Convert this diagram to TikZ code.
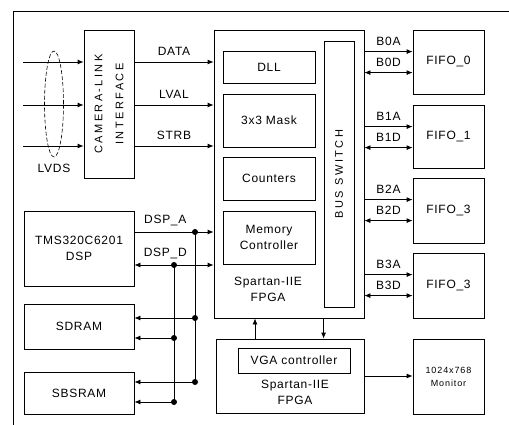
\documentclass[tikz,border=0pt]{standalone}
\usepackage{fontspec}
\setmainfont{Liberation Sans}[LetterSpace=6]
\usetikzlibrary{arrows.meta,positioning,shapes.geometric}

\begin{document}
\begin{tikzpicture}[
    x=1pt, y=-1pt,
    font=\fontsize{12}{16}\selectfont,
    blk/.style={rectangle, draw=black, line width=0.8pt, align=center, inner sep=0pt},
    inner/.style={blk, minimum width=92pt},
    fifo/.style={blk, minimum width=71pt},
    memory/.style={blk, minimum width=110pt},
    txt/.style={align=center, inner sep=0pt},
    spaced/.style={txt, font=\fontsize{11}{21}\selectfont\addfontfeatures{LetterSpace=22}},
    lbl/.style={above=6pt, inner sep=0pt},
    dot/.style={circle, fill=black, inner sep=0pt, minimum size=6pt},
    arrow/.style={-{Latex[length=6pt,width=5pt]}, line width=0.8pt},
    dblarrow/.style={{Latex[length=6pt,width=5pt]}-{Latex[length=6pt,width=5pt]}, line width=0.8pt},
    bus/.style={line width=0.8pt}
]
\useasboundingbox (0,0) rectangle (509,425);

% Frame
\draw[line width=0.8pt] (509,11) -- (13,11) -- (13,425);

% Camera link side
\node[blk, minimum width=50pt, minimum height=148pt] (cam) at (109,104) {};
\node[spaced, rotate=90] (camtxt) at (cam.center) {CAMERA-LINK\\INTERFACE};
\node[draw, ellipse, line width=0.6pt, dash pattern=on 4pt off 2pt, minimum width=19pt, minimum height=106pt] (lvds) at (54,104) {};
\node[below=3pt of lvds] (lvdstxt) {LVDS};

% Main FPGA
\node[blk, minimum width=150pt, minimum height=288pt] (fpga) at (289,174) {};
\node[inner, minimum height=32pt] (dll) at (269,67) {DLL};
\node[inner, minimum height=53pt] (mask) at (269,120.5) {3x3 Mask};
\node[inner, minimum height=43pt] (cnt) at (269,178.5) {Counters};
\node[inner, minimum height=53pt] (memc) at (269,237.5) {Memory\\Controller};
\node[txt] (fpgatxt) at (268,289) {Spartan-IIE\\FPGA};
\node[blk, minimum width=30pt, minimum height=266pt] (bsw) at (339,174) {};
\node[spaced, rotate=90] (bswtxt) at (bsw.center) {BUS SWITCH};

% FIFOs and monitor
\node[fifo, minimum height=64pt] (fifo0) at (448.5,62) {FIFO\_0};
\node[fifo, minimum height=63pt] (fifo1) at (448.5,136.5) {FIFO\_1};
\node[fifo, minimum height=65pt] (fifo2) at (448.5,210.5) {FIFO\_3};
\node[fifo, minimum height=65pt] (fifo3) at (448.5,285.5) {FIFO\_3};
\node[fifo, minimum height=75pt, font=\fontsize{9}{13}\selectfont\addfontfeatures{LetterSpace=10}] (mon) at (448.5,376.5) {1024x768\\Monitor};

% VGA FPGA
\node[blk, minimum width=148pt, minimum height=74pt] (vga) at (290,376) {};
\node[blk, minimum width=112pt, minimum height=25pt] (vgac) at (294,360.5) {VGA controller};
\node[txt] (vgatxt) at (295,392.5) {Spartan-IIE\\FPGA};

% DSP and memories
\node[memory, minimum height=75pt] (dsp) at (79,248.5) {TMS320C6201\\DSP};
\node[memory, minimum height=45pt] (sdram) at (79,326.5) {SDRAM};
\node[memory, minimum height=42pt] (sbsram) at (79,393) {SBSRAM};

% Camera signals
\coordinate (in1) at (23,62);
\coordinate (in2) at (23,105);
\coordinate (in3) at (23,146);
\draw[arrow] (in1) -- (in1 -| cam.west);
\draw[arrow] (in2) -- (in2 -| cam.west);
\draw[arrow] (in3) -- (in3 -| cam.west);
\draw[arrow] (cam.east |- in1) -- (fpga.west |- in1) node[lbl, midway] {DATA};
\draw[arrow] (cam.east |- in2) -- (fpga.west |- in2) node[lbl, midway] {LVAL};
\draw[arrow] (cam.east |- in3) -- (fpga.west |- in3) node[lbl, midway] {STRB};

% FIFO buses
\foreach \i in {0,...,3} {
  \draw[arrow] ([yshift=-22pt]fifo\i.north west -| fpga.east) -- ([yshift=-22pt]fifo\i.north west) node[lbl, midway] {B\i A};
  \draw[dblarrow] ([yshift=-43pt]fifo\i.north west -| fpga.east) -- ([yshift=-43pt]fifo\i.north west) node[lbl, midway] {B\i D};
}

% DSP buses
\node[dot] (ja) at (195,232) {};
\node[dot] (jd) at (174,265) {};
\node[dot] (sa) at (195,318) {};
\node[dot] (sd) at (174,338) {};
\node[dot] (ba) at (195,382) {};
\node[dot] (bd) at (174,402) {};
\draw[arrow] (dsp.east |- ja) -- (fpga.west |- ja) node[lbl, pos=0.39] {DSP\_A};
\draw[dblarrow] (dsp.east |- jd) -- (fpga.west |- jd) node[lbl, pos=0.39] {DSP\_D};
\draw[bus] (ja.center) -- (ba.center);
\draw[bus] (jd.center) -- (bd.center);
\draw[arrow] (sa.center) -- (sa -| sdram.east);
\draw[arrow] (sd.center) -- (sd -| sdram.east);
\draw[arrow] (ba.center) -- (ba -| sbsram.east);
\draw[arrow] (bd.center) -- (bd -| sbsram.east);

% VGA links
\coordinate (upx) at (255,0);
\draw[arrow] (vga.north -| upx) -- (fpga.south -| upx);
\draw[arrow] (fpga.south -| bsw.west) -- (vga.north -| bsw.west);
\draw[arrow] (vga.east) -- (vga.east -| mon.west);

\end{tikzpicture}
\end{document}
